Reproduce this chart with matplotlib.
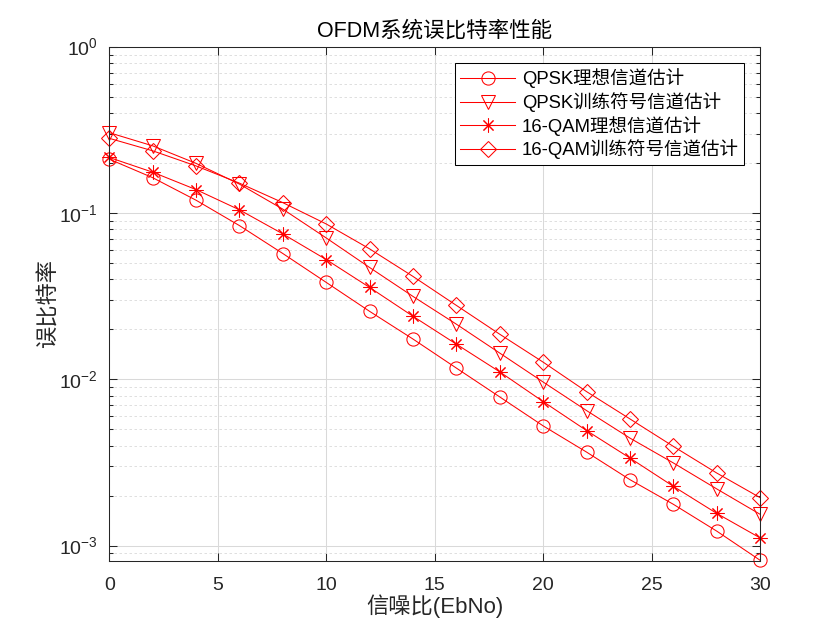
import numpy as np
import matplotlib
matplotlib.use('Agg')
import matplotlib.pyplot as plt
from matplotlib.ticker import LogLocator, FixedLocator, FuncFormatter

plt.rcParams['font.family'] = ['Liberation Sans', 'Noto Sans CJK SC', 'DejaVu Sans']
plt.rcParams['mathtext.fontset'] = 'custom'
plt.rcParams['mathtext.rm'] = 'Liberation Sans'
plt.rcParams['axes.unicode_minus'] = False

# data
ebno = [0, 2, 4, 6, 8, 10, 12, 14, 16, 18, 20, 22, 24, 26, 28, 30]
qpsk_ideal = [0.212, 0.164, 0.120, 0.0844, 0.0573, 0.0384, 0.0257, 0.0175,
              0.0117, 0.00784, 0.00525, 0.00365, 0.00249, 0.00177, 0.00122, 0.000814]
qpsk_train = [0.306, 0.255, 0.200, 0.150, 0.106, 0.0711, 0.0472, 0.0316,
              0.0215, 0.0144, 0.00964, 0.00649, 0.00443, 0.00314, 0.00219, 0.00154]
qam_ideal = [0.217, 0.177, 0.139, 0.105, 0.0752, 0.0527, 0.0358, 0.0240,
             0.0163, 0.0111, 0.00735, 0.00492, 0.00336, 0.00227, 0.00156, 0.00111]
qam_train = [0.283, 0.238, 0.193, 0.152, 0.116, 0.0863, 0.0611, 0.0417,
             0.0279, 0.0187, 0.0127, 0.00844, 0.00578, 0.00395, 0.00273, 0.00194]
labels = ['QPSK理想信道估计', 'QPSK训练符号信道估计',
          '16-QAM理想信道估计', '16-QAM训练符号信道估计']
# (8, 2, 0) is an 8-armed asterisk like MATLAB's '*'
markers = ['o', 'v', (8, 2, 0), 'D']

fig = plt.figure(figsize=(8.4, 6.3), dpi=100)
ax = fig.add_axes([0.13, 0.11, 0.775, 0.815])

series = [qpsk_ideal, qpsk_train, qam_ideal, qam_train]
sizes = [9.5, 10, 10, 8]
for ys, m, lab, ms in zip(series, markers, labels, sizes):
    ax.semilogy(ebno, ys, color='r', marker=m, markersize=ms, fillstyle='none',
                markeredgewidth=0.75, linewidth=0.75, label=lab, clip_on=False)

ax.set_xlim(0, 30)
ax.set_ylim(8.1e-4, 1)
ax.xaxis.set_major_locator(FixedLocator([0, 5, 10, 15, 20, 25, 30]))
ax.yaxis.set_major_locator(LogLocator(base=10, numticks=10))
ax.yaxis.set_minor_locator(LogLocator(base=10, subs=np.arange(2, 10), numticks=20))
ax.yaxis.set_major_formatter(FuncFormatter(lambda v, p: r'$10^{%d}$' % round(np.log10(v))))

axcol = (0.15, 0.15, 0.15)
for s in ax.spines.values():
    s.set_color(axcol)
    s.set_linewidth(0.75)
ax.tick_params(which='both', direction='in', top=True, right=True, colors=axcol,
               labelsize=14, width=0.75)
ax.tick_params(which='major', length=6)
ax.tick_params(which='minor', length=3)
ax.tick_params(axis='x', pad=12)
ax.tick_params(axis='y', pad=8)

ax.grid(True, which='major', color=(0.85, 0.85, 0.85), linewidth=0.75)
ax.grid(True, which='minor', axis='y', color=(0.85, 0.85, 0.85), linewidth=0.6,
        linestyle=(0, (3, 3)))
ax.set_axisbelow(True)

ax.set_title('OFDM系统误比特率性能', fontsize=15.5, color='k', pad=8)
ax.set_xlabel('信噪比(EbNo)', fontsize=16, color=axcol, labelpad=0)
ax.set_ylabel('误比特率', fontsize=16, color=axcol, labelpad=0)

leg = ax.legend(loc='upper right', fontsize=13.3, fancybox=False, framealpha=1,
                edgecolor='k', borderaxespad=0.85, handlelength=3.0,
                handletextpad=0.35, labelspacing=0.2, borderpad=0.3)
leg.get_frame().set_linewidth(0.75)

fig.savefig('out.png', dpi=100, facecolor='white')
